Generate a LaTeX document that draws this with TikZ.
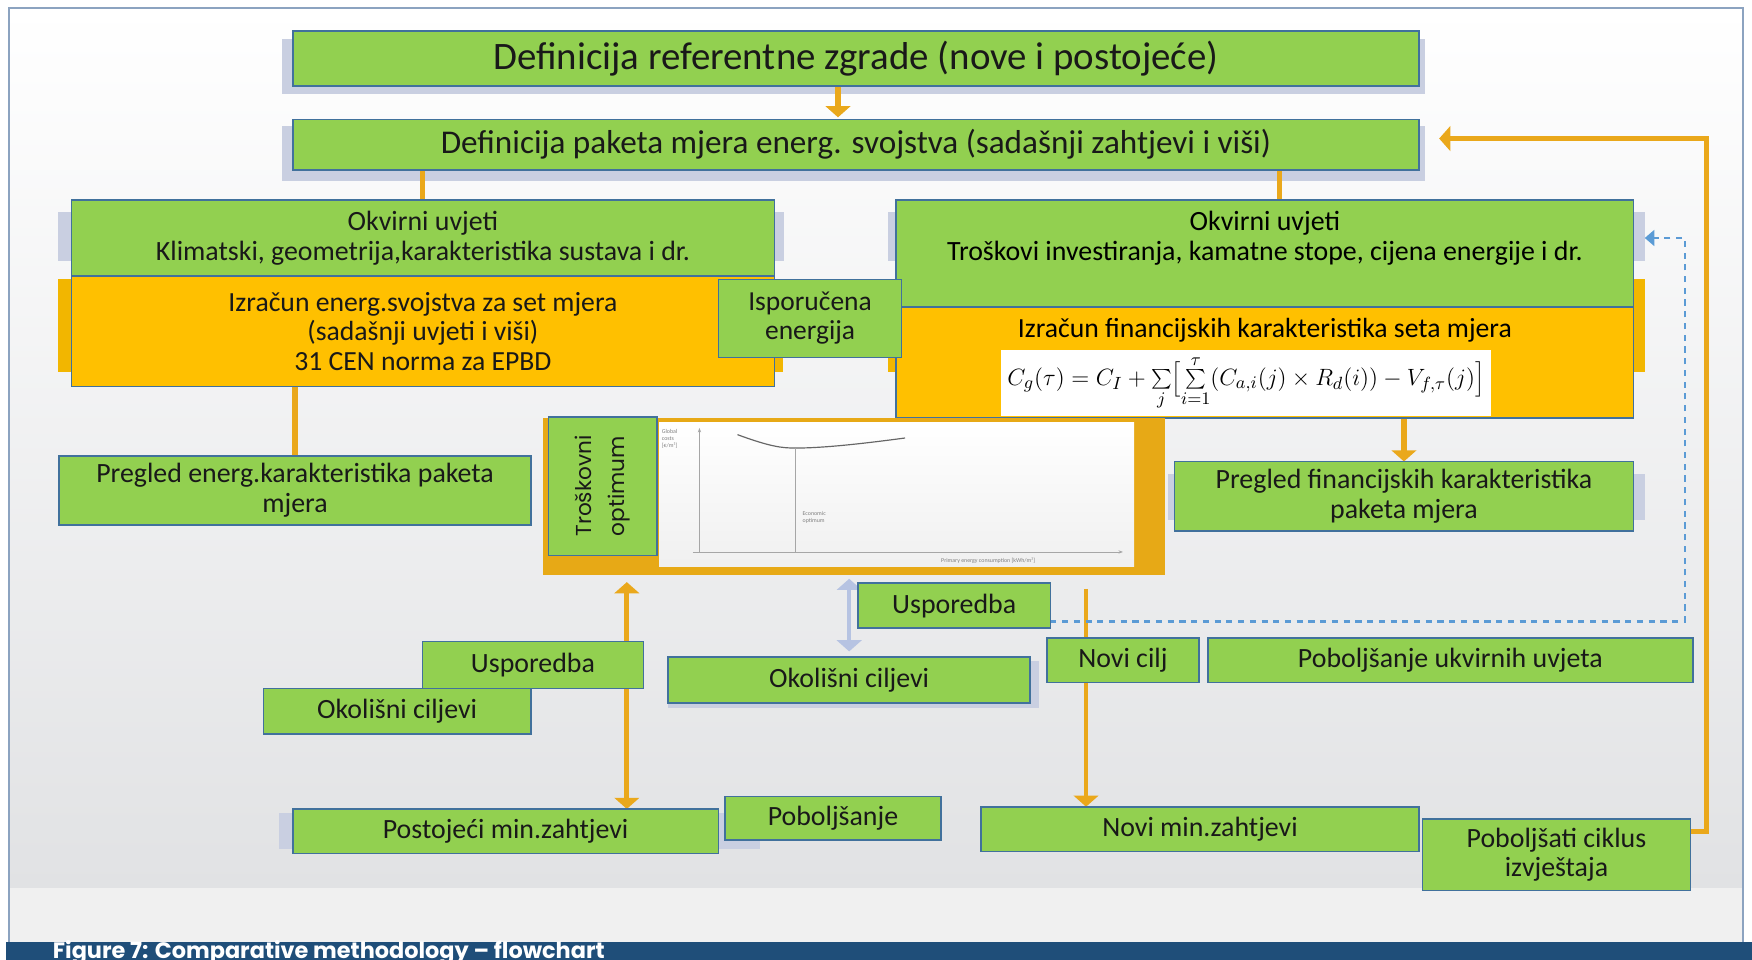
\documentclass[tikz,border=0pt]{standalone}
\usepackage{fontspec}
\setmainfont{Carlito}
\newfontfamily\geofont{Poppins}
\usetikzlibrary{positioning}
\usetikzlibrary{arrows.meta}

\definecolor{boxgreen}{HTML}{92D050}
\definecolor{boxedge}{HTML}{41719C}
\definecolor{calcorange}{HTML}{FFC000}
\definecolor{lineorange}{HTML}{EAA81B}
\definecolor{panelorange}{HTML}{E7A916}
\definecolor{halogray}{HTML}{C9CFE1}
\definecolor{cmpblue}{HTML}{B6C3E2}
\definecolor{dotblue}{HTML}{5B9BD5}
\definecolor{framegray}{HTML}{8CA3C0}
\definecolor{capblue}{HTML}{1F4E79}
\definecolor{bggray}{HTML}{E1E2E4}
\definecolor{bglight}{HTML}{F0F0F0}

\pgfdeclarelayer{back}
\pgfdeclarelayer{edges}
\pgfsetlayers{back,edges,main}

\begin{document}
\begin{tikzpicture}[x=0.2mm,y=-0.2mm,>={Triangle[width=4.4mm,length=2mm]}]
    \tikzset{block/.style= {draw=boxedge, line width=0.8pt, fill=boxgreen, rectangle, align=center, inner sep=0pt, outer sep=0pt, text=black!90, font=\fontsize{14.2}{15.3}\selectfont},
             calc/.style= {block, fill=calcorange},
             flow/.style= {draw, color=lineorange, line width=2.6pt},
             halo/.style= {fill=halogray},
             tiny/.style= {font=\fontsize{3}{3.6}\selectfont, text=gray, align=left, inner sep=0pt},}

    \useasboundingbox (0,0) rectangle (1568,859);
    \clip (0,0) rectangle (1568,859);

    % frame, shadows
    \begin{pgfonlayer}{back}
        \fill[white] (0,0) rectangle (1568,859);
        \shade[top color=white, bottom color=bggray] (8,7) rectangle (1560,795);
        \fill[bglight] (8,795) rectangle (1560,843);
        \draw[framegray, line width=0.8pt] (8,843) -- (8,7) -- (1560,7) -- (1560,843);
        \fill[capblue] (5,843) rectangle (1568,859);
        \fill[halo] (252,35) rectangle (1275,84);
        \fill[halo] (252,113) rectangle (1275,162);
        \fill[halo] (52,190) rectangle (702,234);
        \fill[calcorange!95!black] (52,250) rectangle (701,333);
        \fill[halo] (795,190) rectangle (1472,234);
        \fill[calcorange!95!black] (795,250) rectangle (1472,333);
        \fill[halo] (1045,424) rectangle (1472,465);
        \fill[halo] (598,592) rectangle (930,634);
        \fill[halo] (250,728) rectangle (680,760);
    \end{pgfonlayer}

    \node[block, minimum width=201.6mm, minimum height=9.8mm, font=\fontsize{19.8}{22}\selectfont] (ref) at (766,52.5) {Definicija referentne zgrade (nove i postojeće)};
    \node[block, minimum width=201.6mm, minimum height=9mm, font=\fontsize{16.9}{19}\selectfont] (paket) at (766,129.5) {Definicija paketa mjera energ. svojstva (sadašnji zahtjevi i viši)};

    \node[block, minimum width=125.8mm, minimum height=13.6mm] (okvL) at (378.5,213) {Okvirni uvjeti\\Klimatski, geometrija,karakteristika sustava i dr.};
    \node[calc, minimum width=125.8mm, minimum height=19.8mm, below=0pt of okvL, font=\fontsize{14.1}{15}\selectfont] (izrL) {Izračun energ.svojstva za set mjera\\(sadašnji uvjeti i viši)\\31 CEN norma za EPBD};

    \node[block, minimum width=132mm, minimum height=19.2mm] (okvR) at (1132,227) {};
    \node[align=center, inner sep=0pt, font=\fontsize{14.2}{15.3}\selectfont] (okvRtxt) at (1132,213.5) {Okvirni uvjeti\\Troškovi investiranja, kamatne stope, cijena energije i dr.};
    \node[calc, minimum width=132mm, minimum height=19.8mm, below=0pt of okvR] (izrR) {};
    \node[inner sep=0pt, font=\fontsize{14.1}{15}\selectfont] (izrRtxt) at (1132,296) {Izračun financijskih karakteristika seta mjera};
    \node[fill=white, minimum width=87.6mm, minimum height=11.8mm, inner sep=0pt, font=\fontsize{12.4}{14}\selectfont] (formula) at (1115,342.5)
        {$C_g(\tau)=C_I+\sum\limits_j\Bigl[\sum\limits_{i=1}^{\tau}\bigl(C_{a,i}(j)\times R_d(i)\bigr)-V_{f,\tau}(j)\Bigr]$};

    \node[block, minimum width=32.8mm, minimum height=14mm, font=\fontsize{14}{14.7}\selectfont] (isp) at (725,285) {Isporučena\\energija};

    \node[block, minimum width=84.4mm, minimum height=12.4mm] (preL) at (264,439) {Pregled energ.karakteristika paketa\\mjera};
    \node[block, minimum width=82.2mm, minimum height=12.4mm] (preR) at (1256.5,444) {Pregled financijskih karakteristika\\paketa mjera};

    % cost optimum chart
    \node[fill=panelorange, minimum width=111.4mm, minimum height=28.2mm, inner sep=0pt, outer sep=0pt] (panel) at (764.5,444.5) {};
    \shade[top color=white, bottom color=gray!12] (590,378) rectangle (1015,507);
    \draw[gray!70, line width=0.4pt, -{Stealth[length=0.8mm]}] (626,494) -- (626,383);
    \draw[gray!70, line width=0.4pt, -{Stealth[length=0.8mm]}] (620,494) -- (1005,494);
    \draw[gray!80!black, line width=0.6pt] (660,389) .. controls (690,400) and (700,401) .. (712,401) .. controls (740,401) and (780,396) .. (810,392);
    \draw[gray!70, line width=0.5pt] (712,401) -- (712,494);
    \node[tiny, anchor=north west] (costlbl) at (592,384) {Global\\costs\\{}[€/m²]};
    \node[tiny, anchor=west] (optlbl) at (718,463) {Economic\\optimum};
    \node[tiny, anchor=north west] (enlbl) at (842,499) {Primary energy consumption [kWh/m²]};
    \node[block, rotate=90, minimum width=24.8mm, minimum height=19.4mm, font=\geofont\fontsize{11}{17}\selectfont] (trosk) at (539.5,435) {Troškovni\\optimum};

    \node[block, minimum width=34.4mm, minimum height=8mm] (uspM) at (854,542) {Usporedba};
    \node[block, minimum width=64.8mm, minimum height=8.2mm] (okoM) at (760,608.5) {Okolišni ciljevi};
    \node[block, minimum width=39.6mm, minimum height=8.4mm] (uspL) at (477,595) {Usporedba};
    \node[block, minimum width=47.8mm, minimum height=8.2mm] (okoL) at (355.5,636.5) {Okolišni ciljevi};
    \node[block, minimum width=76.2mm, minimum height=8mm] (postoj) at (452.5,744) {Postojeći min.zahtjevi};
    \node[block, minimum width=38.6mm, minimum height=7.8mm] (pobolj) at (745.5,732.5) {Poboljšanje};
    \node[block, minimum width=27.2mm, minimum height=8mm] (noviC) at (1005,591) {Novi cilj};
    \node[block, minimum width=86.8mm, minimum height=8mm] (pobUkv) at (1298,591) {Poboljšanje ukvirnih uvjeta};
    \node[block, minimum width=78.4mm, minimum height=8mm] (noviMin) at (1074,742) {Novi min.zahtjevi};
    \node[block, minimum width=48mm, minimum height=12.8mm, font=\fontsize{14.2}{14.7}\selectfont] (pobCik) at (1393,765) {Poboljšati ciklus\\izvještaja};

    \node[anchor=base west, inner sep=0pt, text=white, font=\geofont\bfseries\fontsize{11.4}{13}\selectfont] (caption) at (47,858) {Figure 7: Comparative methodology – flowchart};

    % connectors
    \begin{pgfonlayer}{edges}
        \path[flow]
            ([xshift=-3.2mm]ref.south) edge[->, shorten >=0.4mm] ([xshift=-3.2mm]paket.north)
            (paket.south -| okvL.north) edge (okvL.north)
            ([xshift=2.6mm]okvR.north |- paket.south) edge ([xshift=2.6mm]okvR.north)
            (izrL.south -| preL.north) edge[->] ([yshift=-2.2mm]preL.north)
            (preR.north |- izrR.south) edge[->] (preR.north)
            ([xshift=21.7mm]postoj.north |- panel.south) edge[<->, shorten <=1.2mm] ([xshift=21.7mm]postoj.north)
            ;
        \draw[cmpblue, line width=2.3pt, <->, shorten <=0.6mm, shorten >=1mm] (okoM.north |- panel.south) -- (okoM.north);
        \draw[flow, line width=1.7pt, ->, shorten <=2.4mm] ([xshift=-20.4mm]noviMin.north |- panel.south) -- ([xshift=-20.4mm]noviMin.north);
        \draw[flow, ->, shorten >=3.6mm] ([yshift=4.2mm]pobCik.east) -- ++(2.8mm,0) |- ([yshift=1.1mm]paket.east);
        \draw[dotblue, line width=1.5pt, dash pattern=on 1.1mm off 1mm, ->, >={Triangle[width=2.8mm,length=1.7mm]}, shorten >=2mm]
            ([yshift=-2.8mm]uspM.east) -- ++(113.6mm,0) |- ([yshift=2.8mm]okvR.east);
    \end{pgfonlayer}
\end{tikzpicture}
\end{document}
